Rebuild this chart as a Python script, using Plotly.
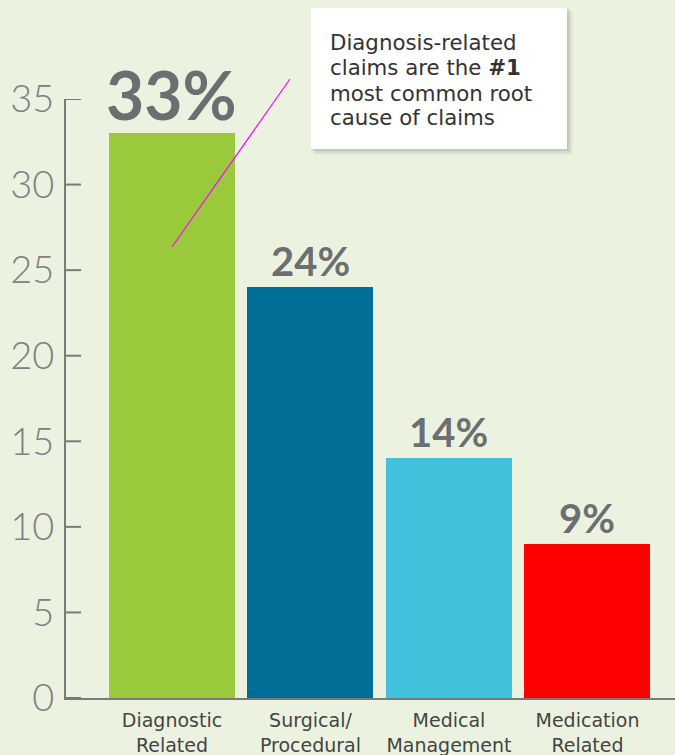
import plotly.graph_objects as go

categories = ["Diagnostic<br>Related", "Surgical/<br>Procedural", "Medical<br>Management", "Medication<br>Related"]
values = [33, 24, 14, 9]
labels = ["33%", "24%", "14%", "9%"]
label_sizes = [66, 40, 40, 40]
colors = ["#9AC93C", "#006E96", "#41C1DB", "#FF0000"]
y_ticks = [0, 5, 10, 15, 20, 25, 30, 35]
callout_lines = ["Diagnosis-related", "claims are the <b>#1</b>", "most common root", "cause of claims"]

BG = "#EBF3E0"
AXIS = "#7A7A7A"
xs = list(range(len(categories)))
X0, X1 = -0.765, 3.632
TICK_W = 15 / 138.5

fig = go.Figure()
fig.add_trace(go.Bar(
    x=xs, y=values, marker=dict(color=colors, line=dict(width=0)),
    width=0.91, hoverinfo="skip", showlegend=False,
))
# inside tick marks on the y axis
tx, ty = [], []
for t in y_ticks:
    tx += [X0, X0 + TICK_W, None]
    ty += [t, t, None]
fig.add_trace(go.Scatter(x=tx, y=ty, mode="lines", line=dict(color=AXIS, width=2),
                         hoverinfo="skip", showlegend=False, cliponaxis=False))

for xi, v, lab, sz in zip(xs, values, labels, label_sizes):
    fig.add_annotation(
        x=xi, y=v, xref="x", yref="y", text=f"<b>{lab}</b>", showarrow=False,
        yanchor="bottom", yshift=-3 if sz > 50 else 0,
        font=dict(family="Lato", size=sz, color="#6D6E71", weight=900),
    )

# callout box with shadow
for off, col in [(6, "rgba(0,0,0,0.04)"), (4, "rgba(0,0,0,0.06)"), (2, "rgba(0,0,0,0.08)")]:
    fig.add_shape(type="rect", xref="paper", yref="paper",
                  x0=(311 - 66 + off - 2) / 609, x1=(567 - 66 + off) / 609,
                  y0=(698 - 149 - off) / 599, y1=(698 - 8 - off + 2) / 599,
                  line=dict(width=0), fillcolor=col, layer="above")
fig.add_shape(type="rect", xref="paper", yref="paper",
              x0=(311 - 66) / 609, x1=(567 - 66) / 609,
              y0=(698 - 149) / 599, y1=(698 - 8) / 599,
              line=dict(width=0), fillcolor="white", layer="above")
for i, line in enumerate(callout_lines):
    fig.add_annotation(
        xref="paper", yref="paper", x=(328 - 66) / 609, y=(698 - (43 + 25 * i)) / 599,
        xanchor="left", yanchor="middle", align="left", showarrow=False,
        text=line, font=dict(family="DejaVu Sans", size=21.3, color="#333333"),
    )
# magenta pointer line
fig.add_shape(type="line", xref="paper", yref="paper",
              x0=(172 - 66) / 609, y0=(698 - 247) / 599,
              x1=(290 - 66) / 609, y1=(698 - 79) / 599,
              line=dict(color="#FF00FF", width=1.2), layer="above")

fig.update_layout(
    width=675, height=755,
    margin=dict(l=66, r=0, t=99, b=57, autoexpand=False),
    paper_bgcolor=BG, plot_bgcolor=BG,
    bargap=0,
)
fig.update_xaxes(
    range=[X0, X1], tickvals=xs, ticktext=categories, automargin=False,
    showgrid=False, zeroline=False, showline=True, linecolor=AXIS, linewidth=2,
    ticks="outside", ticklen=4, tickcolor="rgba(0,0,0,0)",
    tickfont=dict(family="DejaVu Sans", size=19, color="#444444"),
)
fig.update_yaxes(
    range=[0, 35], tickvals=y_ticks, showgrid=False, zeroline=False, automargin=False,
    showline=True, linecolor=AXIS, linewidth=2,
    ticks="", tickfont=dict(family="Lato", size=38, color="#808080", weight=300),
    ticklabelstandoff=2,
)

fig.write_html("out.html")
